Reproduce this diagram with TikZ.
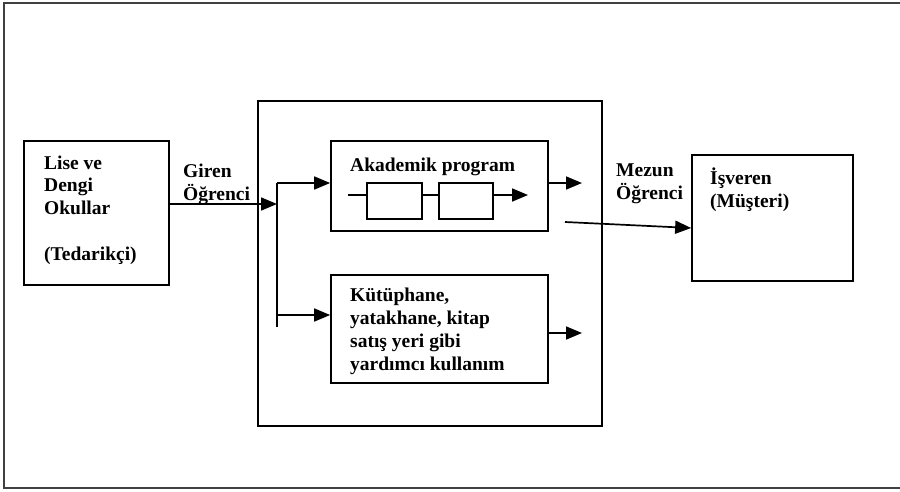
\documentclass[tikz,border=0pt]{standalone}
\usepackage{fontspec}
\setmainfont{Liberation Serif}
\usetikzlibrary{arrows.meta,calc}
\begin{document}
\begin{tikzpicture}[x=1pt,y=-1pt,
  box/.style={draw=black,line width=1.7pt,inner sep=0pt,fill=none},
  % multi-line labels are placed by the baseline of their last line
  lbl/.style={font=\bfseries\fontsize{19.5}{22.7}\selectfont,align=left,anchor=base west,inner sep=0pt},
  conn/.style={line width=1.7pt},
  arr/.style={conn,-{Triangle[length=16pt,width=13pt]}},
  frame/.style={draw=black!75,line width=2.6pt}]
\useasboundingbox (0,0) rectangle (900,491);
% page frame (open on the right)
\draw[frame] (900,3) -- (4,3) -- (4,488) -- (900,488);

% boxes
\node[box,minimum width=145pt,minimum height=144pt] (sup) at (96.5,213) {};
\node[box,minimum width=344pt,minimum height=325pt] (proc) at (430,263.5) {};
\node[box,minimum width=217pt,minimum height=90pt] (acad) at (439.5,186) {};
\node[box,minimum width=55pt,minimum height=36pt] (stepA) at (394.5,201) {};
\node[box,minimum width=54pt,minimum height=36pt] (stepB) at (466,201) {};
\node[box,minimum width=217pt,minimum height=108pt] (supp) at (439.5,329) {};
\node[box,minimum width=161pt,minimum height=126pt] (emp) at (772.5,218) {};

% texts
\node[lbl] (tsup) at (44,260) {Lise ve\\Dengi\\Okullar\\[22.7pt](Tedarikçi)};
\node[lbl] (tin) at (183,200) {Giren\\Öğrenci};
\node[lbl] (tacad) at (350,171) {Akademik program};
\node[lbl] (tsupp) at (350,370) {Kütüphane,\\yatakhane, kitap\\satış yeri gibi\\yardımcı kullanım};
\node[lbl] (tout) at (616,199) {Mezun\\Öğrenci};
\node[lbl] (temp) at (710,207) {İşveren\\(Müşteri)};

% input flow and branch
\coordinate (branch) at (277,204);
\coordinate (bTop) at (277,183);
\coordinate (bLow) at (277,315);
\coordinate (bEnd) at (277,327);
\draw[arr] (sup.east |- branch) -- (branch);
\draw[conn] (bTop) -- (bEnd);
\draw[arr] (bTop) -- (acad.west |- bTop);
\draw[arr] (bLow) -- (supp.west |- bLow);

% academic program chain
\coordinate (aIn) at (348,195);
\coordinate (aOut) at (528,195);
\draw[conn] (aIn) -- (stepA.west |- aIn);
\draw[conn] (stepA.east |- aIn) -- (stepB.west |- aIn);
\draw[arr] (stepB.east |- aIn) -- (aOut);

% outputs
\coordinate (acadOut) at (582,183);
\coordinate (suppOut) at (582,333);
\draw[arr] (acad.east |- acadOut) -- (acadOut);
\draw[arr] (supp.east |- suppOut) -- (suppOut);

% graduates to employer
\coordinate (mStart) at (565,222);
\draw[arr] (mStart) -- ($(emp.west)+(0,10)$);
\end{tikzpicture}
\end{document}
